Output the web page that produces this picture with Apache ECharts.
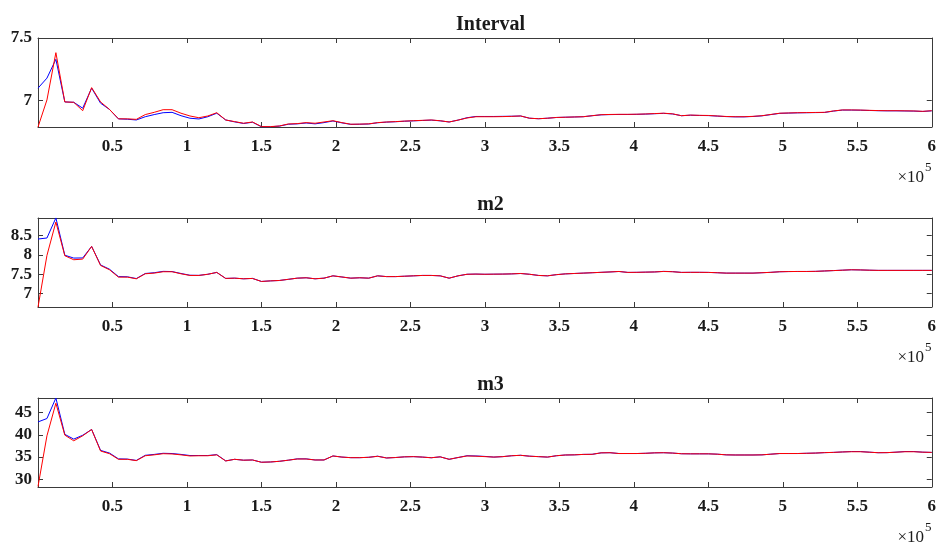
<!DOCTYPE html>
<html><head><meta charset="utf-8">
<script src="https://cdn.jsdelivr.net/npm/echarts@6/dist/echarts.min.js"></script>
<style>html,body{margin:0;padding:0;background:#fff}#c{width:939px;height:544px}</style>
</head><body><div id="c"></div>
<script>
// sample positions (x)
const sampleX = [0,6000,12000,18000,24000,30000,36000,42000,48000,54000,
 60000,66000,72000,78000,84000,90000,96000,102000,108000,114000,
 120000,126000,132000,138000,144000,150000,156000,162000,168000,174000,
 180000,186000,192000,198000,204000,210000,216000,222000,228000,234000,
 240000,246000,252000,258000,264000,270000,276000,282000,288000,294000,
 300000,306000,312000,318000,324000,330000,336000,342000,348000,354000,
 360000,366000,372000,378000,384000,390000,396000,402000,408000,414000,
 420000,426000,432000,438000,444000,450000,456000,462000,468000,474000,
 480000,486000,492000,498000,504000,510000,516000,522000,528000,534000,
 540000,546000,552000,558000,564000,570000,576000,582000,588000,594000,
 600000];
const titles = ['Interval', 'm2', 'm3'];
const xTickLabels = ['', '0.5', '1', '1.5', '2', '2.5', '3', '3.5', '4', '4.5', '5', '5.5', '6'];
const yTicks1 = [7, 7.5];
const yTicks2 = [7, 7.5, 8, 8.5];
const yTicks3 = [30, 35, 40, 45];

const intervalRed = [6.79,7.006,7.383,6.99,6.987,6.92,7.104,6.99,6.93,6.855,
 6.855,6.851,6.889,6.907,6.928,6.928,6.90,6.878,6.864,6.878,
 6.904,6.846,6.833,6.82,6.83,6.793,6.793,6.798,6.814,6.817,
 6.825,6.82,6.83,6.84,6.825,6.812,6.813,6.815,6.825,6.83,
 6.833,6.837,6.84,6.843,6.846,6.84,6.83,6.845,6.862,6.872,
 6.872,6.872,6.873,6.875,6.878,6.86,6.856,6.86,6.866,6.868,
 6.87,6.872,6.88,6.888,6.89,6.891,6.891,6.892,6.894,6.897,
 6.90,6.895,6.88,6.885,6.883,6.882,6.878,6.874,6.872,6.872,
 6.875,6.88,6.89,6.90,6.902,6.904,6.905,6.906,6.907,6.918,
 6.926,6.926,6.925,6.923,6.921,6.92,6.92,6.919,6.918,6.915,
 6.92];
const intervalBlue = [7.10,7.18,7.33,6.99,6.987,6.94,7.10,6.98,6.93,6.855,
 6.852,6.846,6.872,6.889,6.904,6.907,6.88,6.86,6.854,6.872,
 6.90,6.846,6.831,6.818,6.828,6.792,6.792,6.797,6.812,6.815,
 6.822,6.815,6.825,6.838,6.823,6.811,6.812,6.814,6.824,6.829,
 6.832,6.836,6.839,6.842,6.845,6.839,6.83,6.845,6.864,6.874,
 6.874,6.874,6.875,6.876,6.878,6.86,6.856,6.86,6.866,6.868,
 6.87,6.872,6.88,6.887,6.889,6.89,6.89,6.891,6.893,6.896,
 6.899,6.894,6.88,6.884,6.882,6.881,6.877,6.873,6.871,6.871,
 6.874,6.879,6.889,6.899,6.901,6.903,6.904,6.905,6.906,6.917,
 6.925,6.925,6.924,6.922,6.92,6.919,6.919,6.918,6.917,6.914,
 6.919];

const m2Red = [6.655,7.985,8.845,7.977,7.874,7.89,8.217,7.727,7.616,7.427,
 7.427,7.384,7.513,7.53,7.565,7.565,7.513,7.47,7.47,7.50,
 7.548,7.393,7.40,7.384,7.393,7.315,7.33,7.34,7.37,7.40,
 7.41,7.384,7.40,7.46,7.43,7.40,7.41,7.40,7.46,7.44,
 7.44,7.45,7.46,7.47,7.47,7.46,7.40,7.46,7.50,7.505,
 7.50,7.503,7.505,7.51,7.52,7.50,7.47,7.46,7.49,7.51,
 7.52,7.53,7.54,7.55,7.56,7.572,7.548,7.55,7.555,7.56,
 7.572,7.565,7.548,7.55,7.55,7.548,7.54,7.53,7.53,7.53,
 7.53,7.54,7.55,7.565,7.57,7.572,7.572,7.575,7.585,7.595,
 7.605,7.616,7.612,7.605,7.60,7.60,7.60,7.60,7.60,7.60,
 7.60];
const m2Blue = [8.407,8.433,8.95,7.99,7.917,7.92,8.217,7.74,7.63,7.44,
 7.435,7.39,7.52,7.54,7.575,7.57,7.52,7.475,7.472,7.50,
 7.548,7.393,7.40,7.384,7.393,7.315,7.33,7.34,7.37,7.40,
 7.41,7.384,7.40,7.46,7.43,7.40,7.41,7.40,7.46,7.44,
 7.44,7.45,7.46,7.47,7.47,7.46,7.40,7.46,7.50,7.505,
 7.50,7.503,7.505,7.51,7.52,7.50,7.47,7.46,7.49,7.51,
 7.52,7.53,7.54,7.55,7.56,7.572,7.548,7.55,7.555,7.56,
 7.575,7.568,7.548,7.55,7.55,7.548,7.54,7.53,7.53,7.53,
 7.53,7.54,7.55,7.565,7.57,7.572,7.572,7.575,7.585,7.595,
 7.605,7.616,7.612,7.605,7.60,7.60,7.60,7.60,7.60,7.60,
 7.60];

const m3Red = [28.4,39.78,47.1,39.93,38.66,39.78,41.2,36.36,35.76,34.5,
 34.5,34.2,35.3,35.5,35.76,35.7,35.5,35.25,35.3,35.3,
 35.5,34.13,34.5,34.3,34.35,33.84,33.9,34.05,34.3,34.57,
 34.57,34.35,34.35,35.25,35.0,34.87,34.87,34.95,35.17,34.8,
 34.9,35.05,35.1,35.0,34.85,35.05,34.5,34.9,35.25,35.2,
 35.1,35.0,35.1,35.3,35.4,35.2,35.1,35.0,35.3,35.47,
 35.5,35.6,35.62,35.95,35.98,35.8,35.8,35.8,35.85,35.95,
 35.98,35.9,35.75,35.73,35.73,35.73,35.65,35.5,35.47,35.47,
 35.47,35.5,35.65,35.8,35.8,35.8,35.85,35.9,36.0,36.05,
 36.15,36.2,36.2,36.1,35.98,36.0,36.1,36.2,36.2,36.1,
 36.05];
const m3Blue = [42.9,43.66,48.26,40.1,39.04,39.9,41.2,36.5,35.9,34.6,
 34.55,34.25,35.4,35.6,35.85,35.8,35.6,35.35,35.35,35.35,
 35.55,34.15,34.5,34.3,34.35,33.84,33.9,34.05,34.3,34.6,
 34.6,34.35,34.35,35.25,35.0,34.87,34.87,34.95,35.2,34.8,
 34.9,35.05,35.1,35.0,34.85,35.05,34.5,34.9,35.3,35.25,
 35.15,35.0,35.1,35.3,35.4,35.2,35.1,35.0,35.3,35.47,
 35.5,35.6,35.62,35.95,35.98,35.8,35.8,35.8,35.85,35.95,
 35.98,35.9,35.75,35.73,35.73,35.73,35.65,35.5,35.47,35.47,
 35.47,35.5,35.65,35.8,35.8,35.8,35.85,35.9,36.0,36.05,
 36.15,36.25,36.25,36.1,35.98,36.0,36.1,36.25,36.25,36.1,
 36.05];

const yRanges = [[6.79, 7.5], [6.658, 8.948], [28.28, 48.27]];
const yTicks = [yTicks1, yTicks2, yTicks3];
const redSets = [intervalRed, m2Red, m3Red];
const blueSets = [intervalBlue, m2Blue, m3Blue];

const FONT = '"Liberation Serif", "Times New Roman", serif';
const AX = '#3a3a3a';
const TXT = '#1a1a1a';
const gridTops = [38, 218, 398];
const GH = 89, GL = 38, GW = 895;

const grids = [], xAxes = [], yAxes = [], series = [], titleArr = [], graphics = [];
for (let p = 0; p < 3; p++) {
  grids.push({left: GL, top: gridTops[p], width: GW, height: GH, containLabel: false});
  const common = {type: 'value', gridIndex: p, min: 0, max: 600000, interval: 50000,
    splitLine: {show: false},
    axisLine: {show: true, onZero: false, lineStyle: {color: AX, width: 1}},
    axisTick: {show: true, inside: true, length: 5, lineStyle: {color: AX}}};
  xAxes.push(Object.assign({}, common, {position: 'bottom',
    axisLabel: {show: true, margin: 11, color: TXT, fontFamily: FONT, fontWeight: 'bold', fontSize: 17,
      formatter: v => xTickLabels[Math.round(v / 50000)] || ''}}));
  xAxes.push(Object.assign({}, common, {position: 'top', axisLabel: {show: false}}));
  const yc = {type: 'value', gridIndex: p, min: yRanges[p][0], max: yRanges[p][1],
    splitLine: {show: false},
    axisLine: {show: true, onZero: false, lineStyle: {color: AX, width: 1}},
    axisTick: {show: true, inside: true, length: 5, customValues: yTicks[p], lineStyle: {color: AX}}};
  yAxes.push(Object.assign({}, yc, {position: 'left',
    axisLabel: {show: true, margin: 6, customValues: yTicks[p], color: TXT, fontFamily: FONT, fontWeight: 'bold', fontSize: 17,
      formatter: v => String(v)}}));
  yAxes.push(Object.assign({}, yc, {position: 'right', axisLabel: {show: false}}));

  const mk = arr => arr.map((v, i) => [sampleX[i], v]);
  series.push({type: 'line', xAxisIndex: 2 * p, yAxisIndex: 2 * p, data: mk(blueSets[p]),
    showSymbol: false, symbol: 'none', lineStyle: {color: '#0000ff', width: 1}, itemStyle: {color: '#0000ff'}, animation: false, z: 2});
  series.push({type: 'line', xAxisIndex: 2 * p, yAxisIndex: 2 * p, data: mk(redSets[p]),
    showSymbol: false, symbol: 'none', lineStyle: {color: '#ff0000', width: 1}, itemStyle: {color: '#ff0000'}, animation: false, z: 3});

  titleArr.push({text: titles[p], left: GL + GW / 2, top: gridTops[p] - 28, textAlign: 'center',
    textStyle: {fontFamily: FONT, fontWeight: 'bold', fontSize: 20, color: TXT}});

  const by = gridTops[p] + GH + 51;
  graphics.push({type: 'text', z: 10, style: {text: '×10', x: 924, y: by, textAlign: 'right', textVerticalAlign: 'middle',
    font: '17px ' + FONT, fill: TXT}});
  graphics.push({type: 'text', z: 10, style: {text: '5', x: 925, y: by - 10, textAlign: 'left', textVerticalAlign: 'middle',
    font: '13px ' + FONT, fill: TXT}});
}

const chart = echarts.init(document.getElementById('c'), null, {renderer: 'canvas'});
chart.setOption({
  animation: false,
  backgroundColor: '#ffffff',
  title: titleArr,
  grid: grids,
  xAxis: xAxes,
  yAxis: yAxes,
  series: series,
  graphic: graphics
});
</script>
</body></html>
